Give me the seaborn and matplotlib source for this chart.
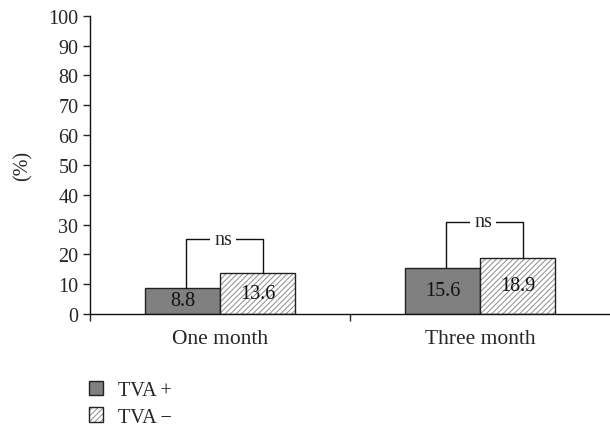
import pandas as pd
import seaborn as sns
import matplotlib.pyplot as plt
from matplotlib.colors import to_rgba
from matplotlib.patches import Patch

periods = ["One month", "Three month"]
groups = ["TVA +", "TVA \u2212"]
tva_pos = [8.8, 15.6]
tva_neg = [13.6, 18.9]
bracket_top = [25, 31]
sig_labels = ["ns", "ns"]

df = pd.DataFrame({
    "period": periods * 2,
    "group": [groups[0]] * 2 + [groups[1]] * 2,
    "value": tva_pos + tva_neg,
})

sns.set_style("ticks")
plt.rcParams["font.family"] = ["Liberation Serif", "DejaVu Serif"]
plt.rcParams["hatch.linewidth"] = 0.7

dark = "#808080"
hatch_col = to_rgba("#8c8c8c")
fs = 14.5
fig = plt.figure(figsize=(6.1, 4.31), dpi=100)
ax = fig.add_axes([0.148, 0.269, 0.852, 0.692])

w = 0.577
sns.barplot(data=df, x="period", y="value", hue="group", palette=[dark, "white"],
            width=w, edgecolor="#222222", linewidth=1.0, legend=False, ax=ax,
            saturation=1)
for bar in ax.containers[1]:
    bar.set_hatch("//////")
    bar._hatch_color = hatch_col

# values inside bars
for cont in ax.containers:
    for bar in cont:
        h = bar.get_height()
        ax.text(bar.get_x() + bar.get_width() / 2, h / 2, f"{h:.1f}",
                ha="center", va="center", fontsize=fs, color="#111111")

# significance brackets
for i in range(len(periods)):
    xl = i - 0.13
    xr = i + 0.165
    top = bracket_top[i]
    ax.plot([xl, xl, xr, xr], [tva_pos[i], top, top, tva_neg[i]],
            color="#111111", lw=1.0, zorder=3)
    ax.text(i + 0.012, top, sig_labels[i], ha="center", va="center", fontsize=fs,
            bbox=dict(facecolor="white", edgecolor="none", pad=3), zorder=4)

ax.set_xlim(-0.5, 1.5)
ax.set_ylim(0, 100)
ax.set_yticks(range(0, 101, 10))
ax.set_xticks([-0.5, 0.5], minor=True)
ax.tick_params(axis="x", which="major", length=0, labelsize=15.5, pad=11)
ax.tick_params(axis="x", which="minor", length=5, width=1, direction="out")
ax.tick_params(axis="y", length=5, width=1, direction="out", labelsize=fs)
ax.set_xlabel("")
ax.set_ylabel("(%)", fontsize=fs, labelpad=11)
for s in ["top", "right"]:
    ax.spines[s].set_visible(False)
for s in ["left", "bottom"]:
    ax.spines[s].set_color("#111111")
    ax.spines[s].set_linewidth(1.0)

h_neg = Patch(facecolor="white", edgecolor="#222222", hatch="//////", linewidth=1.0)
h_neg._hatch_color = hatch_col
handles = [Patch(facecolor=dark, edgecolor="#222222", linewidth=1.0), h_neg]
leg = fig.legend(handles, groups, loc="upper left", bbox_to_anchor=(0.146, 0.113),
                 frameon=False, fontsize=fs, handlelength=0.7, handleheight=0.7,
                 handletextpad=0.75, labelspacing=0.35, borderaxespad=0, borderpad=0)
for p in leg.get_patches()[1:]:
    p._hatch_color = hatch_col

fig.savefig("out.png", dpi=100)
